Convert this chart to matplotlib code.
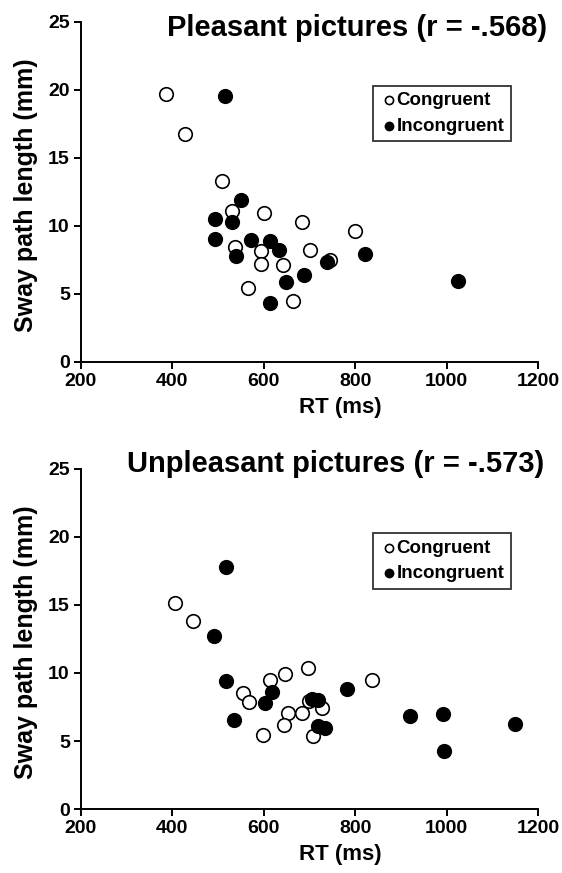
import matplotlib
matplotlib.use("Agg")
import matplotlib.pyplot as plt

plt.rcParams['font.family'] = ['Liberation Sans', 'DejaVu Sans']
plt.rcParams['font.weight'] = 'bold'

# Pleasant pictures
pl_con_rt = [386, 427, 508, 531, 601, 683, 800, 537, 595, 701, 594, 642, 744, 565, 664]
pl_con_sway = [19.7, 16.75, 13.3, 11.05, 10.95, 10.25, 9.6, 8.4, 8.15, 8.2, 7.15, 7.1, 7.5, 5.4, 4.45]
pl_inc_rt = [515, 551, 494, 530, 493, 573, 613, 634, 540, 739, 821, 689, 649, 613, 1026]
pl_inc_sway = [19.5, 11.9, 10.5, 10.25, 9.05, 8.95, 8.85, 8.2, 7.75, 7.35, 7.9, 6.35, 5.85, 4.3, 5.95]

# Unpleasant pictures
un_con_rt = [405, 445, 554, 567, 613, 646, 696, 838, 699, 653, 683, 728, 645, 599, 708]
un_con_sway = [15.15, 13.85, 8.55, 7.9, 9.45, 9.95, 10.35, 9.5, 7.95, 7.05, 7.05, 7.45, 6.2, 5.45, 5.35]
un_inc_rt = [518, 492, 517, 617, 602, 535, 706, 718, 783, 719, 734, 921, 992, 994, 1150]
un_inc_sway = [17.8, 12.75, 9.4, 8.6, 7.8, 6.55, 8.1, 8.05, 8.85, 6.1, 5.95, 6.85, 7.0, 4.25, 6.25]

panels = [
    ("Pleasant pictures (r = -.568)", pl_con_rt, pl_con_sway, pl_inc_rt, pl_inc_sway),
    ("Unpleasant pictures (r = -.573)", un_con_rt, un_con_sway, un_inc_rt, un_inc_sway),
]

fig = plt.figure(figsize=(5.62, 8.73), dpi=100)
bottoms = [0.5857, 0.0733]
title_y = [0.968, 0.469]
title_x = [0.636, 0.597]

for i, (title, crt, csw, irt, isw) in enumerate(panels):
    ax = fig.add_axes([0.1441, bottoms[i], 0.813, 0.3895])
    ax.scatter(crt, csw, s=95, facecolors='white', edgecolors='black', linewidths=1.2,
               label='Congruent', zorder=3)
    ax.scatter(irt, isw, s=95, facecolors='black', edgecolors='black', linewidths=1.2,
               label='Incongruent', zorder=3)
    ax.set_xlim(200, 1200)
    ax.set_ylim(0, 25)
    ax.set_xticks(range(200, 1201, 200))
    ax.set_yticks(range(0, 26, 5))
    for s in ['top', 'right']:
        ax.spines[s].set_visible(False)
    for s in ['left', 'bottom']:
        ax.spines[s].set_linewidth(1.4)
    ax.tick_params(direction='out', length=5, width=1.4, labelsize=14, pad=3)
    for lab in ax.get_xticklabels() + ax.get_yticklabels():
        lab.set_fontweight('bold')
    ax.text(0.567, -0.135, 'RT (ms)', transform=ax.transAxes, ha='center', va='center',
            fontsize=16, fontweight='bold')
    ax.set_ylabel('Sway path length (mm)', fontsize=18, fontweight='bold')
    ax.yaxis.set_label_coords(-0.095, 0.49)
    fig.text(title_x[i], title_y[i], title, ha='center', va='center', fontsize=21,
             fontweight='bold')
    leg = ax.legend(loc='upper left', bbox_to_anchor=(0.639, 0.812), fancybox=False,
                    frameon=True, edgecolor='black', fontsize=13.5, handletextpad=-0.1,
                    markerscale=0.6, borderpad=0.35, labelspacing=0.45, handlelength=1.0,
                    borderaxespad=0)
    leg.get_frame().set_linewidth(1.3)
    for t in leg.get_texts():
        t.set_fontweight('bold')

fig.savefig('out.png', dpi=100)
